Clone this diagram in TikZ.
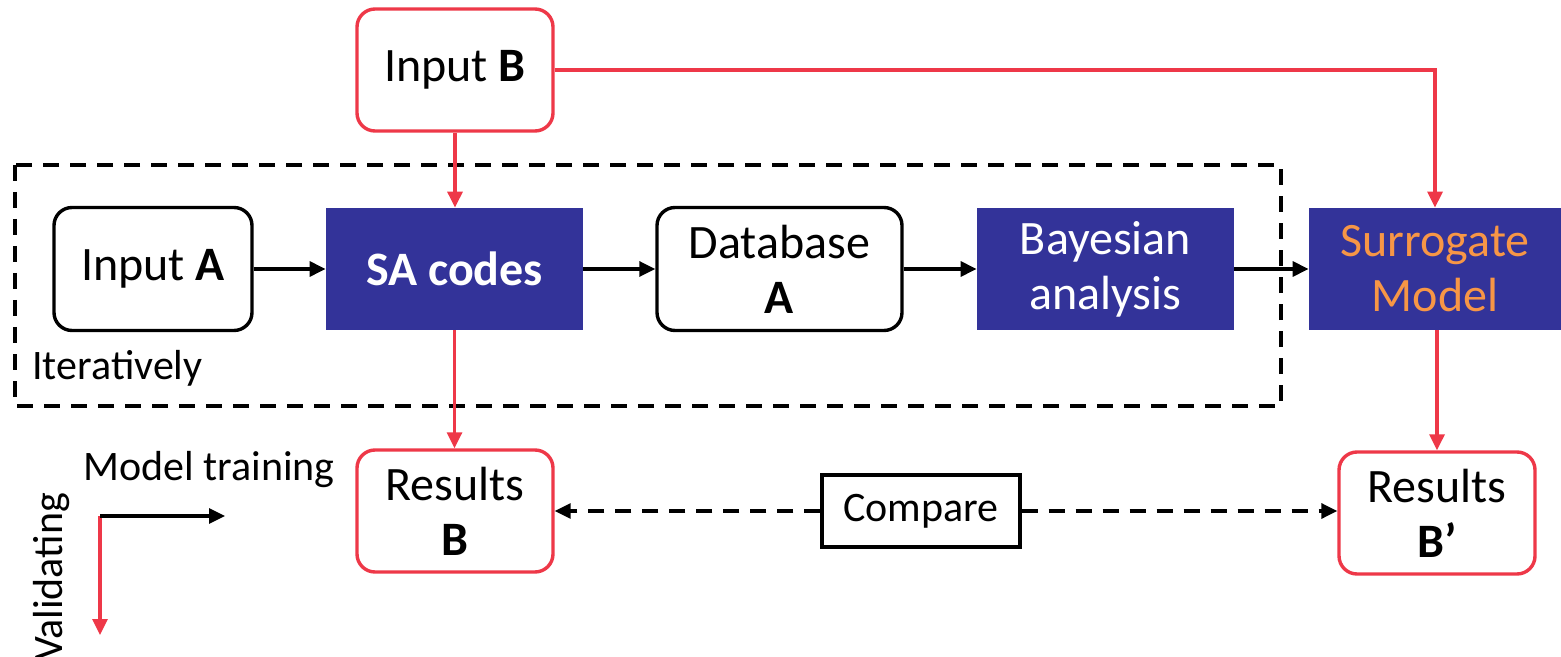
\documentclass[tikz,border=0pt]{standalone}
\usepackage{fontspec}
\setmainfont{Carlito}
\usepackage{xcolor}
\usetikzlibrary{arrows.meta,positioning}
\definecolor{boxblue}{RGB}{51,51,153}
\definecolor{linered}{RGB}{238,56,72}
\definecolor{surrorange}{RGB}{247,150,70}
\tikzset{
  txt/.style={font=\fontsize{21}{27.5}\selectfont,align=center,inner sep=0pt},
  boxtxt/.style={txt,font=\fontsize{24}{27.5}\selectfont},
  redbox/.style={boxtxt,draw=linered,line width=1.7pt,rounded corners=9pt,fill=white,minimum width=98pt,minimum height=61pt},
  blackbox/.style={boxtxt,draw=black,line width=1.7pt,rounded corners=9pt,fill=white,minimum height=61.5pt},
  bluebox/.style={boxtxt,fill=boxblue,text=white,minimum width=128.5pt,minimum height=61pt},
  flow/.style={-{Triangle[length=8pt,width=7.5pt]},line width=1.6pt},
  valid/.style={flow,draw=linered},
  cmp/.style={flow,dash pattern=on 8pt off 5.5pt}
}
\begin{document}
\begin{tikzpicture}[x=0.5pt,y=-0.5pt]
\useasboundingbox (0,0) rectangle (1561,657);
% loop frame
\draw[line width=1.6pt,dash pattern=on 8pt off 5.5pt] (15,165) rectangle (1281,406);
\node[txt,anchor=west] (iter) at (32,368) {Iteratively};
% boxes
\node[redbox] (inB) at (455,70) {Input \textbf{B}};
\node[blackbox,minimum width=99pt] (inA) at (153,269) {Input \textbf{A}};
\node[bluebox] (sa) at (454.5,269) {\textbf{SA codes}};
\node[blackbox,minimum width=122.5pt] (db) at (779.5,269) {Database\\\textbf{A}};
\node[bluebox] (bay) at (1105.5,269) {Bayesian\\analysis};
\node[bluebox,minimum width=126pt,text=surrorange] (sur) at (1435,269) {Surrogate\\Model};
\node[redbox] (resB) at (455,511) {Results\\\textbf{B}};
\node[redbox] (resBp) at (1437,513) {Results\\\textbf{B’}};
\node[txt,draw,line width=1.6pt,minimum width=99pt,minimum height=36pt] (cmp) at (921,511) {Compare};
% training flow
\draw[flow] (inA) -- (sa);
\draw[flow] (sa) -- (db);
\draw[flow] (db) -- (bay);
\draw[flow] (bay) -- (sur);
% validation flow
\draw[valid] (inB) -- (inB |- sa.north);
\draw[valid] (inB) -| (sur);
\draw[valid] (sa) -- (sa.south |- resB.north);
\draw[valid] (resBp.north |- sur.south) -- (resBp.north);
\draw[cmp] (cmp) -- (resB);
\draw[cmp] (cmp) -- (resBp.west |- cmp.east);
% legend
\coordinate (leg) at (100,516);
\draw[valid] (leg) -- ++(0,119);
\draw[flow] (leg) -- ++(125,0);
\node[txt] (train) at (209,470) {Model training};
\node[txt,rotate=90] (val) at (52,577) {Validating};
\end{tikzpicture}
\end{document}
